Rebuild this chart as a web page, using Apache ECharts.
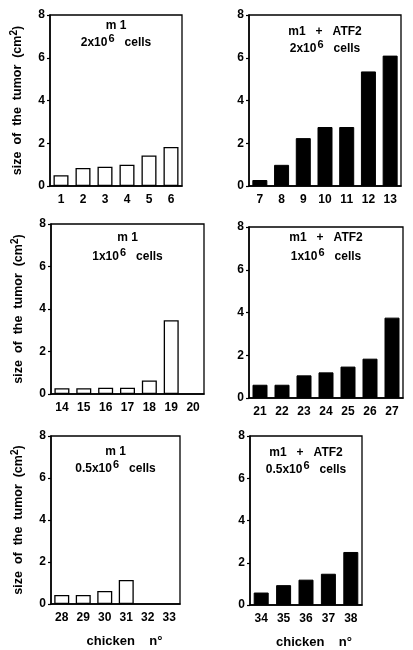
<!DOCTYPE html>
<html>
<head>
<meta charset="utf-8">
<script src="https://cdn.jsdelivr.net/npm/echarts@6/dist/echarts.min.js"></script>
<style>
  html, body { margin: 0; padding: 0; background: #fff; }
  #main { width: 413px; height: 650px; }
</style>
</head>
<body>
<div id="main"></div>
<script>
// chicken numbers per panel
var cats1 = ['1', '2', '3', '4', '5', '6'];
var cats2 = ['7', '8', '9', '10', '11', '12', '13'];
var cats3 = ['14', '15', '16', '17', '18', '19', '20'];
var cats4 = ['21', '22', '23', '24', '25', '26', '27'];
var cats5 = ['28', '29', '30', '31', '32', '33'];
var cats6 = ['34', '35', '36', '37', '38'];

// tumor size (cm2)
var vals1 = [0.5, 0.84, 0.9, 1.0, 1.43, 1.83];
var vals2 = [0.28, 0.99, 2.24, 2.76, 2.76, 5.36, 6.1];
var vals3 = [0.27, 0.27, 0.3, 0.3, 0.64, 3.47, null];
var vals4 = [0.62, 0.62, 1.06, 1.2, 1.47, 1.84, 3.76];
var vals5 = [0.43, 0.43, 0.62, 1.14, null, null];
var vals6 = [0.59, 0.94, 1.2, 1.48, 2.51];

var titles1 = ['m 1', 'm1   +   ATF2', 'm 1', 'm1   +   ATF2', 'm 1', 'm1   +   ATF2'];
var doses = ['2', '2', '1', '1', '0.5', '0.5'];
var yTicks = [0, 2, 4, 6, 8];

var font = '"Liberation Sans", Arial, Helvetica, sans-serif';
var chart = echarts.init(document.getElementById('main'));

// grid boxes [left, top, width, height], title line y
var boxes = [
    {left: 50, top: 15, width: 132, height: 171, t1: 26, t2: 43},
    {left: 249, top: 15, width: 152, height: 171, t1: 32, t2: 49},
    {left: 51, top: 224, width: 153, height: 170, t1: 238, t2: 257},
    {left: 249, top: 227, width: 154, height: 171, t1: 238, t2: 257},
    {left: 51, top: 436, width: 129, height: 168, t1: 452, t2: 469},
    {left: 250, top: 436, width: 112, height: 171, t1: 453, t2: 470}
];
var cats = [cats1, cats2, cats3, cats4, cats5, cats6];
var vals = [vals1, vals2, vals3, vals4, vals5, vals6];

var grids = [], xAxes = [], yAxes = [], series = [], texts = [];

boxes.forEach(function (b, i) {
    var isLeft = i % 2 === 0;
    var isBottom = i >= 4;
    grids.push({
        left: b.left, top: b.top, width: b.width, height: b.height,
        show: true, borderColor: '#000', borderWidth: 1.3, backgroundColor: 'transparent'
    });
    xAxes.push({
        type: 'category', gridIndex: i, data: cats[i],
        axisLine: {lineStyle: {color: '#000', width: 1.5}},
        axisTick: {alignWithLabel: true, length: 3, lineStyle: {color: '#000', width: 1.2}},
        axisLabel: {color: '#000', fontFamily: font, fontWeight: 'bold', fontSize: 12, margin: 8, interval: 0},
        name: isBottom ? 'chicken    n\u00b0' : '',
        nameLocation: 'middle', nameGap: 31,
        nameTextStyle: {color: '#000', fontFamily: font, fontWeight: 'bold', fontSize: 13,
            padding: isLeft ? [0, 0, 0, 18] : [0, 0, 0, 16]}
    });
    yAxes.push({
        type: 'value', gridIndex: i, min: 0, max: 8, interval: 2,
        splitLine: {show: false},
        axisLine: {show: true, lineStyle: {color: '#000', width: 1.5}},
        axisTick: {show: true, length: 3, lineStyle: {color: '#000', width: 1.2}},
        axisLabel: {color: '#000', fontFamily: font, fontWeight: 'bold', fontSize: 12, margin: 5,
            customValues: yTicks},
        name: isLeft ? '{a|size  of  the  tumor  (cm}{s|2}{a|)}' : '',
        nameLocation: 'middle', nameGap: 24,
        nameTextStyle: {
            rich: {
                a: {color: '#000', fontFamily: font, fontWeight: 'bold', fontSize: 12.5},
                s: {color: '#000', fontFamily: font, fontWeight: 'bold', fontSize: 10, padding: [0, 0, 7, 0]}
            }
        }
    });
    series.push({
        type: 'bar', xAxisIndex: i, yAxisIndex: i, data: vals[i], barWidth: 15,
        itemStyle: isLeft ? {color: '#fff', borderColor: '#000', borderWidth: 1.3}
                          : {color: '#000', borderColor: '#000', borderWidth: 1}
    });
    var cx = b.left + b.width / 2;
    texts.push({
        type: 'text', x: cx, y: b.t1,
        style: {text: titles1[i], fill: '#000', font: 'bold 12px ' + font, align: 'center', verticalAlign: 'middle'}
    });
    texts.push({
        type: 'text', x: cx, y: b.t2,
        style: {
            text: '{a|' + doses[i] + 'x10}{s|6}{a|   cells}',
            align: 'center', verticalAlign: 'middle',
            rich: {
                a: {fill: '#000', fontFamily: font, fontWeight: 'bold', fontSize: 12},
                s: {fill: '#000', fontFamily: font, fontWeight: 'bold', fontSize: 11, padding: [0, 0, 8, 1]}
            }
        }
    });
});

chart.setOption({
    backgroundColor: '#fff',
    animation: false,
    grid: grids,
    xAxis: xAxes,
    yAxis: yAxes,
    series: series,
    graphic: texts
});
</script>
</body>
</html>
